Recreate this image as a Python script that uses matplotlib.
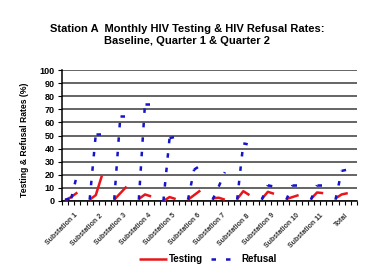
import matplotlib
matplotlib.use("Agg")
import matplotlib.pyplot as plt
import numpy as np

plt.rcParams['font.family'] = ['Liberation Sans', 'DejaVu Sans']

# categories
stations = ['Substation 1', 'Substation 2', 'Substation 3', 'Substation 4',
            'Substation 5', 'Substation 6', 'Substation 7', 'Substation 8',
            'Substation 9', 'Substation 10', 'Substation 11', 'Total']

# testing rates (%) : baseline, quarter 1, quarter 2
testing_base = [0.5, 1, 1, 1.5, 0, 1, 2, 1.5, 1.5, 1.5, 1.5, 2]
testing_q1 = [3, 4.5, 6, 5, 3, 4.5, 2.5, 7.5, 7, 3, 6.5, 5]
testing_q2 = [6.5, 19.5, 11, 3.5, 1.5, 8, 1, 4.5, 5.5, 4.5, 6, 6]

# refusal rates (%) : baseline, quarter 1, quarter 2
refusal_base = [1, 1, 1, 1, 0, 1, 1, 1, 1, 1, 1, 1]
refusal_q1 = [2, 51, 65, 74, 48, 24, 11, 44, 12, 12, 12, 23]
refusal_q2 = [21, 51, 65, 74, 49, 27, 22, 43, 11, 12, 12, 24]

red = '#e8161b'
blue = '#1414c8'
dash = (1.8, 4)

fig = plt.figure(figsize=(3.75, 2.7), dpi=100)
ax = fig.add_axes([62/375, 69/270, 295/375, 131/270])

# each station gets 4 slots: 3 points and a blank one
for g in range(len(stations)):
    xs = np.arange(3) + 4*g + 0.5
    ax.plot(xs, [testing_base[g], testing_q1[g], testing_q2[g]],
            color=red, lw=1.8, solid_capstyle='butt', zorder=3)
    ref = [refusal_base[g], refusal_q1[g], refusal_q2[g]]
    # dash pattern restarts on every segment, like the excel original
    for i in range(2):
        ax.plot(xs[i:i+2], ref[i:i+2], color=blue, lw=1.8, dashes=dash,
                dash_capstyle='butt', zorder=4)

n = 4*len(stations)
ax.set_xlim(0, n)
ax.set_ylim(0, 100)
ax.set_yticks(range(0, 101, 10))
ax.yaxis.grid(True, color='#3a3a3a', lw=1.1)
ax.set_axisbelow(True)
for s in ['top', 'right']:
    ax.spines[s].set_visible(False)
ax.spines['left'].set_linewidth(1.1)
ax.spines['bottom'].set_linewidth(1.1)

# labels sit on the group centres, small ticks on every slot edge
ax.set_xticks([4*g + 2 for g in range(len(stations))])
ax.set_xticklabels(stations, rotation=45, ha='right', rotation_mode='anchor',
                   fontsize=5, fontweight='bold', color='#333333')
ax.set_xticks(range(n + 1), minor=True)
ax.tick_params(axis='x', which='both', length=3, width=0.8, direction='out')
ax.tick_params(axis='x', which='major', pad=5)

ax.tick_params(axis='y', length=3, width=0.8, pad=2.5, labelsize=6.5)
for lb in ax.get_yticklabels():
    lb.set_fontweight('bold')

ax.set_ylabel('Testing & Refusal Rates (%)', fontsize=6.2, fontweight='bold')
ax.yaxis.set_label_coords((29 - 62)/295, (201 - 140)/131)

fig.text(0.5, 1 - 35/270, 'Station A  Monthly HIV Testing & HIV Refusal Rates:\nBaseline, Quarter 1 & Quarter 2',
         ha='center', va='center', fontsize=8, fontweight='bold', linespacing=1.25)

h1, = ax.plot([], [], color=red, lw=1.8, solid_capstyle='butt')
h2, = ax.plot([], [], color=blue, lw=1.8, dashes=dash, dash_capstyle='butt')
fig.legend([h1, h2], ['Testing', 'Refusal'], loc='center',
           bbox_to_anchor=(208/375, 1 - 259/270), ncol=2, frameon=False,
           prop={'size': 7, 'weight': 'bold'}, handlelength=2.9,
           handletextpad=0.2, columnspacing=0.8)

fig.savefig('out.png', dpi=100)
